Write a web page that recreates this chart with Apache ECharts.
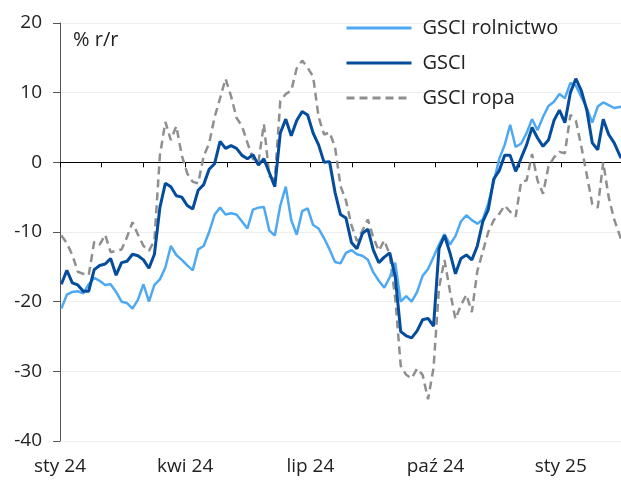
<!DOCTYPE html>
<html>
<head>
<meta charset="utf-8">
<script src="https://cdn.jsdelivr.net/npm/echarts@6/dist/echarts.min.js"></script>
<style>
html,body{margin:0;padding:0;background:#fff;}
#chart{width:621px;height:480px;}
</style>
</head>
<body>
<div id="chart"></div>
<script>
const dates = [
'2024-01-02','2024-01-06','2024-01-10','2024-01-14','2024-01-18','2024-01-22','2024-01-26','2024-01-30',
'2024-02-03','2024-02-07','2024-02-11','2024-02-15','2024-02-19','2024-02-23','2024-02-27',
'2024-03-02','2024-03-06','2024-03-10','2024-03-14','2024-03-18','2024-03-22','2024-03-26','2024-03-30',
'2024-04-03','2024-04-07','2024-04-11','2024-04-15','2024-04-19','2024-04-23','2024-04-27',
'2024-05-01','2024-05-05','2024-05-09','2024-05-13','2024-05-17','2024-05-21','2024-05-25','2024-05-29',
'2024-06-02','2024-06-06','2024-06-10','2024-06-14','2024-06-18','2024-06-22','2024-06-26','2024-06-30',
'2024-07-04','2024-07-08','2024-07-12','2024-07-16','2024-07-20','2024-07-24','2024-07-28',
'2024-08-01','2024-08-05','2024-08-09','2024-08-13','2024-08-17','2024-08-21','2024-08-25','2024-08-29',
'2024-09-02','2024-09-06','2024-09-10','2024-09-14','2024-09-18','2024-09-22','2024-09-26','2024-09-30',
'2024-10-04','2024-10-08','2024-10-12','2024-10-16','2024-10-20','2024-10-24','2024-10-28',
'2024-11-01','2024-11-05','2024-11-09','2024-11-13','2024-11-17','2024-11-21','2024-11-25','2024-11-29',
'2024-12-03','2024-12-07','2024-12-11','2024-12-15','2024-12-19','2024-12-23','2024-12-27','2024-12-31',
'2025-01-04','2025-01-08','2025-01-12','2025-01-16','2025-01-20','2025-01-24','2025-01-28',
'2025-02-01','2025-02-05','2025-02-09','2025-02-14'
];
const rolnictwo = [
-21.0,-19.0,-18.6,-18.5,-18.8,-17.5,-16.6,-17.0,-17.6,-17.5,
-18.6,-20.0,-20.2,-21.0,-19.7,-17.5,-20.0,-17.6,-16.8,-15.1,
-12.0,-13.3,-14.0,-14.8,-15.5,-12.5,-12.0,-10.0,-7.5,-6.5,
-7.5,-7.3,-7.5,-8.5,-9.5,-6.8,-6.5,-6.4,-9.8,-10.5,
-6.2,-3.5,-8.3,-10.4,-7.0,-6.6,-9.0,-9.5,-10.9,-12.5,
-14.3,-14.5,-13.0,-12.6,-13.2,-13.4,-14.0,-15.8,-17.0,-18.0,
-16.5,-14.4,-20.0,-19.2,-20.0,-18.6,-16.3,-15.3,-13.6,-11.8,
-10.3,-11.8,-10.6,-8.5,-7.6,-8.3,-8.8,-8.2,-5.9,-2.8,
0.5,2.5,5.4,2.2,2.7,4.2,6.2,4.6,6.5,8.1,
8.7,9.8,9.2,11.4,11.0,9.4,7.8,5.7,8.0,8.6,
8.2,7.8,8.0
];
const gsci = [
-17.5,-15.5,-17.3,-17.6,-18.5,-18.5,-15.4,-14.8,-14.6,-13.8,
-16.2,-14.4,-14.2,-13.2,-13.4,-14.0,-15.2,-13.2,-6.5,-3.0,
-3.5,-4.8,-5.0,-6.2,-6.7,-4.0,-3.2,-1.0,-0.2,3.0,
2.0,2.4,2.0,1.0,0.5,1.1,-0.4,0.5,-1.5,-3.5,
4.2,6.2,3.8,6.0,7.3,6.8,4.2,2.5,0.0,0.1,
-4.3,-7.5,-8.0,-11.5,-12.4,-10.2,-9.6,-12.6,-14.4,-13.6,
-13.0,-16.4,-24.3,-24.9,-25.2,-24.2,-22.6,-22.4,-23.5,-12.4,
-10.5,-13.0,-16.0,-13.8,-13.3,-14.0,-12.0,-8.5,-6.8,-2.4,
-1.2,1.0,1.0,-1.3,0.6,2.5,5.0,3.5,2.3,3.2,
6.0,7.5,5.7,10.0,12.0,10.3,7.5,2.8,1.8,6.2,
4.0,2.8,0.6
];
const ropa = [
-10.5,-11.6,-13.3,-15.7,-16.0,-16.2,-11.4,-11.8,-10.4,-12.9,
-12.7,-12.5,-10.7,-8.6,-10.4,-12.0,-12.7,-11.2,1.0,5.8,
3.2,5.2,1.0,-1.6,-2.8,-3.0,0.9,2.7,6.5,9.2,
12.0,9.5,6.4,5.2,2.8,0.5,0.0,5.5,-2.0,-2.5,
8.8,9.8,10.3,13.5,14.6,13.6,12.3,6.5,4.0,4.3,
2.2,-3.4,-5.5,-9.0,-11.3,-9.8,-8.2,-10.8,-12.7,-11.2,
-13.3,-19.5,-29.2,-30.5,-31.0,-29.6,-30.5,-34.0,-29.5,-18.0,
-14.0,-18.5,-22.5,-20.5,-19.0,-21.5,-15.6,-12.8,-10.0,-8.3,
-7.4,-6.2,-7.1,-7.8,-2.8,-2.6,1.2,-2.6,-4.5,-0.6,
0.7,1.5,1.3,6.8,6.0,2.3,-1.8,-6.0,-6.5,0.0,
-5.0,-8.2,-11.0
];
const quarterLabels = ['sty 24','kwi 24','lip 24','paź 24','sty 25'];
const seriesNames = ['GSCI rolnictwo','GSCI','GSCI ropa'];
const unitLabel = '% r/r';

const t0 = Date.parse('2024-01-01');
const dayOf = s => (Date.parse(s) - t0) / 86400000;
const xMax = dayOf('2025-02-14');
const monthStep = 30.5;
const pairs = arr => dates.map((d, i) => [dayOf(d), arr[i]]);

const FONT = 'Open Sans';
const chart = echarts.init(document.getElementById('chart'), null, {renderer: 'canvas'});
chart.setOption({
  animation: false,
  backgroundColor: '#ffffff',
  textStyle: {fontFamily: FONT},
  grid: {left: 60, right: 0, top: 23, bottom: 39, containLabel: false, outerBoundsMode: 'none'},
  graphic: [{
    type: 'text', left: 73, top: 30,
    style: {text: unitLabel, fontSize: 20, fill: '#222', fontFamily: FONT}
  }],
  legend: {
    orient: 'vertical', left: 345, top: 18, padding: 0,
    itemWidth: 65, itemHeight: 20, itemGap: 15,
    data: seriesNames,
    itemStyle: {color: 'rgba(0,0,0,0)', borderWidth: 0, opacity: 0},
    lineStyle: {width: 3},
    textStyle: {fontSize: 20, color: '#222', fontFamily: FONT, padding: [0, 0, 0, 6], lineHeight: 20}
  },
  xAxis: [{
    type: 'value', min: 0, max: xMax, interval: monthStep, position: 'bottom',
    axisLine: {show: false, onZero: false},
    axisTick: {show: false},
    splitLine: {show: false},
    axisLabel: {
      show: true, margin: 16, fontSize: 19, color: '#222', fontFamily: FONT,
      formatter: v => {
        const idx = Math.round(v / monthStep);
        if (Math.abs(idx * monthStep - v) > 0.01) return '';
        return idx % 3 === 0 && quarterLabels[idx / 3] ? quarterLabels[idx / 3] : '';
      }
    }
  }, {
    type: 'value', min: 0, max: xMax, interval: monthStep, position: 'bottom',
    axisLine: {show: true, onZero: true, lineStyle: {color: '#000', width: 1}},
    axisTick: {show: true, length: 5, lineStyle: {color: '#000', width: 1}},
    splitLine: {show: false},
    axisLabel: {show: false}
  }],
  yAxis: {
    type: 'value', min: -40, max: 20, interval: 10,
    axisLine: {show: true, lineStyle: {color: '#555', width: 1}},
    axisTick: {show: true, length: 7, lineStyle: {color: '#555'}},
    splitLine: {show: true, lineStyle: {color: '#eeeeee', width: 1}},
    axisLabel: {fontSize: 19, color: '#222', margin: 18, fontFamily: FONT}
  },
  series: [{
    name: seriesNames[2], type: 'line', xAxisIndex: 0, data: pairs(ropa),
    symbol: 'none', z: 2,
    lineStyle: {color: '#8f8f8f', width: 2.5, type: [8, 5]},
    itemStyle: {color: '#8f8f8f'}
  }, {
    name: seriesNames[0], type: 'line', xAxisIndex: 0, data: pairs(rolnictwo),
    symbol: 'none', z: 3,
    lineStyle: {color: '#4ea9f2', width: 2.5},
    itemStyle: {color: '#4ea9f2'}
  }, {
    name: seriesNames[1], type: 'line', xAxisIndex: 0, data: pairs(gsci),
    symbol: 'none', z: 4,
    lineStyle: {color: '#044c9c', width: 3},
    itemStyle: {color: '#044c9c'}
  }]
});
</script>
</body>
</html>
